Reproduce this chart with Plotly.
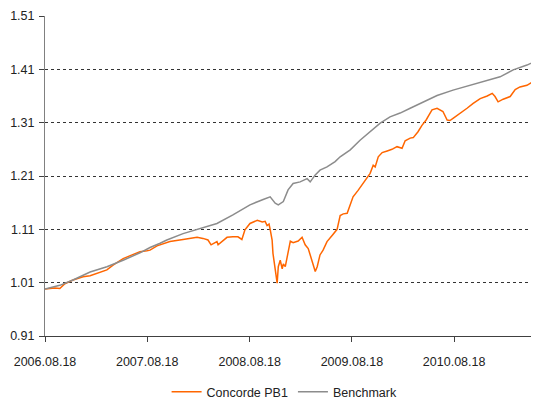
import plotly.graph_objects as go

bench_dates = [
    "2006-08-18", "2006-10-10", "2006-11-26", "2007-01-26", "2007-03-27", "2007-05-24",
    "2007-07-23", "2007-08-28", "2007-10-03", "2007-10-27", "2007-12-24", "2008-02-23",
    "2008-04-23", "2008-06-19", "2008-08-19", "2008-10-05", "2008-10-30", "2008-11-17",
    "2008-11-28", "2008-12-16", "2009-01-02", "2009-01-20", "2009-02-14", "2009-03-11",
    "2009-03-22", "2009-04-09", "2009-04-26", "2009-05-21", "2009-06-19", "2009-07-07",
    "2009-08-12", "2009-09-16", "2009-10-22", "2009-11-27", "2010-01-01", "2010-02-06",
    "2010-03-14", "2010-04-18", "2010-06-18", "2010-08-14", "2010-10-14", "2010-12-14",
    "2011-01-29", "2011-03-17", "2011-05-05", "2011-06-17",
]
bench_values = [
    0.998, 1.005, 1.015, 1.030, 1.040, 1.052,
    1.066, 1.076, 1.084, 1.090, 1.102, 1.112,
    1.121, 1.137, 1.156, 1.166, 1.171, 1.159,
    1.156, 1.162, 1.184, 1.196, 1.199, 1.205,
    1.199, 1.212, 1.221, 1.227, 1.237, 1.246,
    1.259, 1.277, 1.293, 1.309, 1.321, 1.328,
    1.337, 1.346, 1.361, 1.371, 1.380, 1.390,
    1.396, 1.409, 1.418, 1.428,
]

fund_dates = [
    "2006-08-18", "2006-09-22", "2006-10-10", "2006-10-28", "2006-11-26", "2007-01-01",
    "2007-01-26", "2007-03-02", "2007-03-27", "2007-04-18", "2007-05-24", "2007-06-25",
    "2007-07-23", "2007-08-17", "2007-08-28", "2007-09-22", "2007-10-13", "2007-11-07",
    "2007-12-24", "2008-02-12", "2008-03-04", "2008-03-22", "2008-04-02", "2008-04-09",
    "2008-04-23", "2008-04-27", "2008-05-11", "2008-05-29", "2008-06-19", "2008-07-07",
    "2008-07-21", "2008-08-01", "2008-08-19", "2008-09-14", "2008-10-02", "2008-10-12",
    "2008-10-19", "2008-10-26", "2008-10-30", "2008-11-06", "2008-11-09", "2008-11-17",
    "2008-11-24", "2008-11-28", "2008-12-05", "2008-12-12", "2008-12-16", "2008-12-23",
    "2008-12-30", "2009-01-10", "2009-01-20", "2009-02-07", "2009-02-21", "2009-03-04",
    "2009-03-15", "2009-03-29", "2009-04-09", "2009-04-16", "2009-04-26", "2009-05-07",
    "2009-05-21", "2009-06-09", "2009-06-26", "2009-07-07", "2009-07-18", "2009-08-01",
    "2009-08-12", "2009-08-22", "2009-09-09", "2009-09-23", "2009-10-11", "2009-10-22",
    "2009-11-02", "2009-11-09", "2009-11-20", "2009-12-04", "2009-12-22", "2010-01-08",
    "2010-01-26", "2010-02-13", "2010-02-24", "2010-03-14", "2010-03-25", "2010-04-11",
    "2010-04-25", "2010-05-10", "2010-05-20", "2010-05-31", "2010-06-18", "2010-06-29",
    "2010-07-09", "2010-07-24", "2010-08-03", "2010-08-14", "2010-09-08", "2010-10-03",
    "2010-10-25", "2010-11-19", "2010-12-14", "2011-01-01", "2011-01-11", "2011-01-22",
    "2011-02-09", "2011-03-06", "2011-03-24", "2011-04-10", "2011-05-05", "2011-05-27",
    "2011-06-17",
]
fund_values = [
    0.998, 1.000, 0.999, 1.008, 1.015, 1.021,
    1.023, 1.029, 1.034, 1.043, 1.055, 1.062,
    1.068, 1.070, 1.071, 1.079, 1.082, 1.087,
    1.091, 1.095, 1.093, 1.090, 1.081, 1.083,
    1.087, 1.081, 1.087, 1.095, 1.096, 1.096,
    1.091, 1.109, 1.121, 1.127, 1.124, 1.125,
    1.117, 1.120, 1.110, 1.090, 1.065, 1.034,
    1.009, 1.040, 1.052, 1.036, 1.045, 1.040,
    1.058, 1.088, 1.085, 1.088, 1.095, 1.081,
    1.074, 1.052, 1.031, 1.040, 1.062, 1.071,
    1.087, 1.099, 1.110, 1.136, 1.139, 1.140,
    1.156, 1.171, 1.183, 1.193, 1.207, 1.215,
    1.230, 1.227, 1.246, 1.254, 1.257, 1.260,
    1.265, 1.262, 1.276, 1.281, 1.282, 1.293,
    1.305, 1.315, 1.324, 1.334, 1.337, 1.334,
    1.331, 1.315, 1.314, 1.318, 1.327, 1.337,
    1.346, 1.355, 1.360, 1.365, 1.359, 1.349,
    1.354, 1.359, 1.372, 1.377, 1.380, 1.387,
    1.391,
]

x_tick_vals = ["2006-08-18", "2007-08-18", "2008-08-18", "2009-08-18", "2010-08-18"]
x_tick_text = ["2006.08.18", "2007.08.18", "2008.08.18", "2009.08.18", "2010.08.18"]
y_tick_vals = [0.91, 1.01, 1.11, 1.21, 1.31, 1.41, 1.51]
y_tick_text = ["0.91", "1.01", "1.11", "1.21", "1.31", "1.41", "1.51"]

fig = go.Figure()
fig.add_trace(go.Scatter(x=fund_dates, y=fund_values, mode="lines", name="Concorde PB1",
                         line=dict(color="#FF6600", width=1.5)))
fig.add_trace(go.Scatter(x=bench_dates, y=bench_values, mode="lines", name="Benchmark",
                         line=dict(color="#8C8C8C", width=1.5)))

# the page body has an 8px margin, so the figure is sized to fill the rest of the window
fig.update_layout(
    width=531, height=395,
    margin=dict(l=37, r=0, t=8, b=67, autoexpand=False),
    paper_bgcolor="white", plot_bgcolor="white",
    font=dict(family="Liberation Sans, Arial, sans-serif", size=12.5, color="#222222"),
    legend=dict(orientation="h", x=0.485, xanchor="center", y=-0.175, yanchor="middle",
                font=dict(size=12.5, color="#222222"), itemwidth=30, tracegroupgap=0),
    showlegend=True,
)
fig.update_xaxes(
    type="date", range=["2006-08-18", "2011-06-17"],
    tickvals=x_tick_vals, ticktext=x_tick_text, automargin=False,
    ticklabelstandoff=9,
    showgrid=False, showline=True, linecolor="#404040", linewidth=1,
    ticks="outside", ticklen=5, tickcolor="#404040", zeroline=False,
)
fig.update_yaxes(
    range=[0.91, 1.51], tickvals=y_tick_vals, ticktext=y_tick_text, automargin=False,
    ticklabelstandoff=2,
    showgrid=True, gridcolor="#333333", griddash="dot", gridwidth=1,
    showline=True, linecolor="#808080", linewidth=1,
    ticks="outside", ticklen=5, tickcolor="#404040", zeroline=False,
)

fig.write_html("out.html")
